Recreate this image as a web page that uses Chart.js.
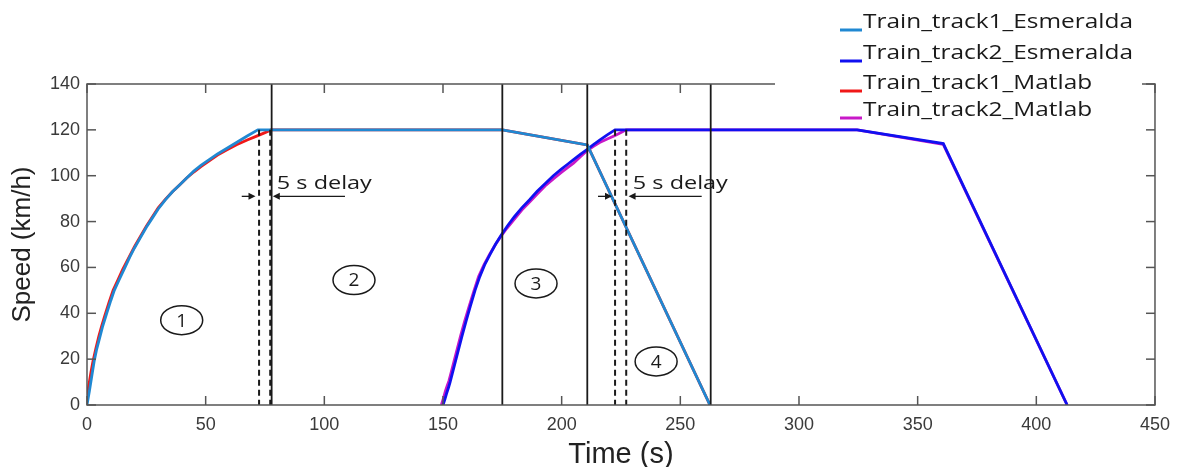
<!DOCTYPE html>
<html>
<head>
<meta charset="utf-8">
<script src="https://cdn.jsdelivr.net/npm/chart.js@4.4.0/dist/chart.umd.min.js"></script>
<style>
  html, body { margin: 0; padding: 0; background: #fff; }
</style>
</head>
<body>
<canvas id="speedChart" width="1179" height="467"></canvas>
<script>
// Speed profiles (time in s, speed in km/h)
const t1Esmeralda = [0, 0.5, 1, 2, 3, 4, 5, 6.5, 8.3, 10, 11.5, 13.5, 16, 18, 20, 22.5, 25, 27.5, 30, 33, 36, 39, 42, 45, 48, 51.5, 55, 59, 63, 67.5, 72, 175, 210.8, 262.5];
const v1Esmeralda = [0, 3, 6, 12.5, 19, 24, 28, 34, 40, 45.5, 50, 54.5, 60, 64.5, 68.5, 73, 77.5, 81.5, 85.5, 89.5, 93, 96, 99, 102, 104.5, 107, 109.5, 112, 114.5, 117.3, 120, 120, 113.4, 0];

const t2Esmeralda = [150, 150.8, 151.5, 152.3, 153, 154, 155, 156.5, 158, 159.7, 161.5, 163.5, 165.5, 167.7, 170, 172.2, 174.5, 177.2, 180, 183.2, 186.5, 189.7, 193, 196.5, 200, 202.5, 205, 208, 210.8, 213.4, 216, 219.2, 222.5, 324.5, 360.8, 413];
const v2Esmeralda = [0, 2.5, 5, 7.5, 10, 14, 18, 24, 30, 36.5, 43, 50, 56, 61.5, 66, 70.2, 74, 78.2, 82, 86, 89.5, 93.2, 96.5, 100, 103, 105, 107, 109.4, 111.5, 113.6, 115.5, 117.8, 120, 120, 114, 0];

const t1Matlab = [0, 0.5, 1, 1.7, 2.5, 3.7, 5, 6.2, 7.5, 9.2, 11, 13, 15, 17.5, 20, 22.5, 25, 27.5, 30, 33, 36, 39, 42, 45, 48, 51.5, 55, 59, 63, 67.5, 72, 75, 77.5, 175, 210.8, 262.5];
const v1Matlab = [4, 7, 10, 14.5, 19, 24.5, 30, 34.5, 39, 44.5, 50, 54.5, 59, 64, 69, 73.5, 78, 82, 86, 89.7, 93, 96, 99, 101.6, 104, 106.5, 109, 111.3, 113.5, 115.6, 117.5, 118.8, 120, 120, 113.4, 0];

const t2Matlab = [149.3, 150.2, 151, 151.7, 152.5, 153.5, 154.5, 156, 157.5, 159.2, 161, 163, 165, 167.2, 169.5, 171.7, 174, 177, 180, 183.2, 186.5, 189.7, 193, 196.5, 200, 202.5, 205, 208, 210.8, 213.4, 216, 219.2, 222.5, 225, 227.2, 324.5, 360.8, 413];
const v2Matlab = [0, 3, 6, 8.2, 10.5, 14.5, 18.5, 24.5, 30.5, 36.8, 43, 49.7, 56, 61, 65.5, 69.3, 73, 77.2, 81, 85, 88.5, 92, 95.5, 98.6, 101.5, 103.5, 105.5, 108.4, 111, 112.8, 114.5, 116, 117.5, 118.8, 120, 120, 113.7, 0];

const seriesNames = ['Train_track1_Esmeralda', 'Train_track2_Esmeralda', 'Train_track1_Matlab', 'Train_track2_Matlab'];
const seriesColors = ['#2088d2', '#1010f0', '#f01818', '#c818c8'];

const xTicks = [0, 50, 100, 150, 200, 250, 300, 350, 400, 450];
const yTicks = [0, 20, 40, 60, 80, 100, 120, 140];

// annotation marks, in data units
const phaseLines = [77.8, 175, 210.8, 262.8];
const delayLines = [72.5, 77.2, 222.5, 227.2];
const delayArrows = [
  { from: 65.2, to: 71.0 }, { from: 108.7, to: 78.3 },
  { from: 215.3, to: 221.2 }, { from: 259, to: 228.2 }
];
const delayTextT = [80, 230];
const regionLabels = ['1', '2', '3', '4'];
const regionT = [39.9, 112.5, 189.2, 239.8];
const regionV = [37, 54.5, 53, 19];

function toPoints(ts, vs) {
  return ts.map((t, i) => ({ x: t, y: vs[i] }));
}

const seriesData = [
  toPoints(t1Esmeralda, v1Esmeralda),
  toPoints(t2Esmeralda, v2Esmeralda),
  toPoints(t1Matlab, v1Matlab),
  toPoints(t2Matlab, v2Matlab)
];

function strokeLine(ctx, x1, y1, x2, y2) {
  ctx.beginPath();
  ctx.moveTo(x1, y1);
  ctx.lineTo(x2, y2);
  ctx.stroke();
}

// text stretched sideways to the width it has in the figure
function wideText(ctx, text, x, y, targetW, refText) {
  const sx = targetW / ctx.measureText(refText || text).width;
  ctx.save();
  ctx.translate(x, y);
  ctx.scale(sx, 1);
  ctx.fillText(text, 0, 0);
  ctx.restore();
}

const overlay = {
  id: 'overlay',
  afterDatasetsDraw(chart) {
    const { ctx, chartArea: a, scales: { x, y } } = chart;
    ctx.save();

    // phase boundaries
    ctx.strokeStyle = '#1a1a1a';
    ctx.lineWidth = 1.8;
    phaseLines.forEach(t => {
      const px = x.getPixelForValue(t);
      strokeLine(ctx, px, a.top, px, a.bottom);
    });

    // 5 s delay dashes
    ctx.lineWidth = 2;
    ctx.setLineDash([6, 4]);
    delayLines.forEach(t => {
      const px = x.getPixelForValue(t);
      strokeLine(ctx, px, y.getPixelForValue(120), px, a.bottom);
    });
    ctx.setLineDash([]);

    // arrows
    const ay = y.getPixelForValue(91);
    ctx.lineWidth = 1.3;
    ctx.fillStyle = '#1a1a1a';
    delayArrows.forEach(ar => {
      const x1 = x.getPixelForValue(ar.from), x2 = x.getPixelForValue(ar.to);
      const dir = Math.sign(x2 - x1);
      strokeLine(ctx, x1, ay, x2 - dir * 5, ay);
      ctx.beginPath();
      ctx.moveTo(x2, ay);
      ctx.lineTo(x2 - dir * 7, ay - 3.5);
      ctx.lineTo(x2 - dir * 7, ay + 3.5);
      ctx.closePath();
      ctx.fill();
    });

    // delay text
    ctx.font = '19px "Open Sans"';
    ctx.textAlign = 'left';
    ctx.textBaseline = 'middle';
    delayTextT.forEach(t => {
      wideText(ctx, '5 s delay', x.getPixelForValue(t), y.getPixelForValue(96.4), 95);
    });

    // circled region numbers
    ctx.lineWidth = 1.5;
    ctx.textAlign = 'center';
    ctx.font = '19px "Open Sans"';
    regionLabels.forEach((lab, i) => {
      const cx = x.getPixelForValue(regionT[i]), cy = y.getPixelForValue(regionV[i]);
      ctx.beginPath();
      ctx.ellipse(cx, cy, 21, 14.5, 0, 0, Math.PI * 2);
      ctx.stroke();
      ctx.fillText(lab, cx, cy + 1);
    });
    ctx.restore();
  },
  afterDraw(chart) {
    const { ctx, chartArea: a, scales: { x, y } } = chart;
    ctx.save();

    // box and inward ticks
    ctx.strokeStyle = '#555';
    ctx.lineWidth = 1.5;
    ctx.strokeRect(a.left, a.top, a.right - a.left, a.bottom - a.top);
    const tl = 9;
    xTicks.forEach(v => {
      const px = x.getPixelForValue(v);
      strokeLine(ctx, px, a.bottom, px, a.bottom - tl);
      strokeLine(ctx, px, a.top, px, a.top + tl);
    });
    yTicks.forEach(v => {
      const py = y.getPixelForValue(v);
      strokeLine(ctx, a.left, py, a.left + tl, py);
      strokeLine(ctx, a.right, py, a.right - tl, py);
    });

    // legend, drawn over the top of the box
    ctx.fillStyle = '#fff';
    ctx.fillRect(775, 0, 367, 96);
    ctx.font = '20px "Open Sans"';
    ctx.textAlign = 'left';
    ctx.textBaseline = 'middle';
    const rows = [22, 53, 83, 110];
    seriesNames.forEach((name, i) => {
      ctx.strokeStyle = seriesColors[i];
      ctx.lineWidth = 3;
      strokeLine(ctx, 840, rows[i] + 8, 862, rows[i] + 8);
      ctx.fillStyle = '#1a1a1a';
      wideText(ctx, name, 863, rows[i], 270, seriesNames[0]);
    });
    ctx.restore();
  }
};

new Chart(document.getElementById('speedChart'), {
  type: 'line',
  data: {
    datasets: seriesData.map((pts, i) => ({
      label: seriesNames[i],
      data: pts,
      borderColor: seriesColors[i],
      borderWidth: 2.8,
      pointRadius: 0,
      tension: 0,
      fill: false
    }))
  },
  options: {
    responsive: false,
    animation: false,
    devicePixelRatio: 1,
    layout: { padding: { top: 84, right: 24, left: 0, bottom: 0 } },
    plugins: { legend: { display: false }, tooltip: { enabled: false } },
    scales: {
      x: {
        type: 'linear',
        min: 0, max: 450,
        afterFit: s => { s.height = 62; },
        afterBuildTicks: s => { s.ticks = xTicks.map(v => ({ value: v })); },
        grid: { display: false, drawTicks: false },
        border: { display: false },
        ticks: { padding: 9, color: '#3a3a3a', font: { family: '"Liberation Sans"', size: 18 }, maxRotation: 0 },
        title: {
          display: true, text: 'Time (s)', color: '#222',
          font: { family: '"Liberation Sans"', size: 29, lineHeight: 0.85 },
          padding: 0
        }
      },
      y: {
        min: 0, max: 140,
        afterFit: s => { s.width = 87; },
        afterBuildTicks: s => { s.ticks = yTicks.map(v => ({ value: v })); },
        grid: { display: false, drawTicks: false },
        border: { display: false },
        ticks: { padding: 7, color: '#3a3a3a', font: { family: '"Liberation Sans"', size: 18 } },
        title: {
          display: true, text: 'Speed (km/h)', color: '#222',
          font: { family: '"Liberation Sans"', size: 26 },
          padding: { top: 7 }
        }
      }
    }
  },
  plugins: [overlay]
});
</script>
</body>
</html>
